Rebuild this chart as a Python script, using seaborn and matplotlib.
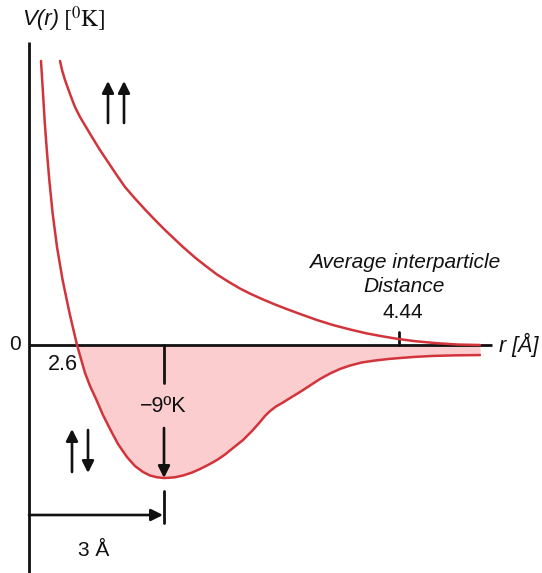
import numpy as np
import pandas as pd
import matplotlib
matplotlib.use("Agg")
import matplotlib.pyplot as plt
import seaborn as sns

# Schematic interatomic potential for a pair of helium atoms.
# Horizontal axis: schematic separation units; vertical axis: V(r) in kelvin.
r_antiparallel = [12, 13.8, 15.8, 17.8, 20.3, 23.6, 28, 33.6, 40.5, 48, 56, 61, 67, 74,
                  81, 89, 98, 106, 114, 121, 128, 135, 145, 154, 163, 171, 179, 188, 196,
                  204, 214, 223, 231, 236, 241, 247, 254, 262, 271, 281, 291, 301, 311,
                  321, 333, 346, 359, 371, 387, 404, 426, 451]
v_antiparallel = [19.22, 17.25, 15.02, 13.19, 11.16, 8.93, 6.63, 4.40, 2.17, 0.0,
                  -1.89, -2.77, -3.65, -4.74, -5.68, -6.70, -7.58, -8.19, -8.59, -8.83,
                  -8.95, -9.00, -8.96, -8.83, -8.63, -8.39, -8.12, -7.78, -7.41, -6.97,
                  -6.43, -5.82, -5.21, -4.80, -4.47, -4.16, -3.89, -3.55, -3.18, -2.74,
                  -2.30, -1.93, -1.62, -1.39, -1.18, -1.05, -0.95, -0.88, -0.80, -0.74,
                  -0.70, -0.68]

r_parallel = [31, 33, 36, 41, 46, 51, 57, 63, 71, 79, 87, 96, 106, 116, 126, 136, 146,
              154, 166, 178, 188, 199, 211, 221, 233, 246, 259, 271, 288, 304, 321, 338,
              354, 369, 386, 408, 429, 451]
v_parallel = [19.22, 18.61, 17.93, 16.98, 16.10, 15.43, 14.75, 14.07, 13.19, 12.38,
              11.57, 10.69, 9.91, 9.17, 8.46, 7.78, 7.14, 6.63, 5.92, 5.28, 4.77, 4.30,
              3.82, 3.48, 3.11, 2.74, 2.40, 2.10, 1.69, 1.35, 1.05, 0.78, 0.58, 0.41,
              0.26, 0.12, 0.03, 0.0]

well_depth = -9          # kelvin, at the minimum
zero_crossing = "2.6"
interparticle = "4.44"
minimum_position = "3 Å"

anti = pd.DataFrame({"r": r_antiparallel, "V": v_antiparallel})
para = pd.DataFrame({"r": r_parallel, "V": v_parallel})

sns.set_theme(style="white")
plt.rcParams["font.family"] = ["Liberation Sans", "DejaVu Sans"]
plt.rcParams["mathtext.fontset"] = "stix"

K = 14.78  # pixels per kelvin of the drawing scale
fig = plt.figure(figsize=(5.42, 5.73), dpi=100)
ax = fig.add_axes([0, 0, 1, 1])


def P(px, py):
    """Convert a drawing position (pixels from top-left) to data coordinates."""
    return (px - 29, (345 - py) / K)


red = "#d1343a"
fill = "#fccdcf"
ink = "#111111"

# shaded well below zero
mask = anti["V"] <= 0
ax.fill_between(anti["r"][mask], anti["V"][mask], 0, color=fill, lw=0, zorder=1)

# axes drawn as plain lines
ax.plot(*zip(P(29, 42), P(29, 573)), color=ink, lw=2.0, zorder=3, solid_capstyle="butt")
ax.plot(*zip(P(29, 345), P(492, 345)), color=ink, lw=2.0, zorder=3, solid_capstyle="butt")

sns.lineplot(data=anti, x="r", y="V", color=red, lw=1.8, ax=ax, zorder=4)
sns.lineplot(data=para, x="r", y="V", color=red, lw=1.8, ax=ax, zorder=4)
ax.set_xlim(-29, 513)
ax.set_ylim(-228 / K, 345 / K)
ax.axis("off")

fs = 15

# axis titles
ax.text(*P(22, 19), "V(r)", style="italic", fontsize=16, ha="left", va="center", color=ink)
ax.text(*P(63, 19), r"$[^{0}\mathrm{K}]$", fontsize=17, ha="left", va="center", color=ink)
ax.text(*P(499, 345), "r [Å]", style="italic", fontsize=15.5, ha="left", va="center", color=ink)

# labels
ax.text(*P(15, 345), "0", fontsize=fs, ha="center", va="center", color=ink)
ax.text(*P(63, 364), zero_crossing, fontsize=15.5, ha="center", va="center", color=ink)
ax.text(*P(163, 407), f"\u2212{abs(well_depth)}ºK", fontsize=15.5, ha="center", va="center", color=ink)
ax.text(*P(94, 551), minimum_position, fontsize=fs, ha="center", va="center", color=ink)
ax.text(*P(403, 313), interparticle, fontsize=fs, ha="center", va="center", color=ink)
ax.text(*P(404, 287), "Distance", style="italic", fontsize=fs, ha="center", va="center", color=ink)
ax.text(*P(405, 262), "Average interparticle", style="italic", fontsize=fs,
        ha="center", va="center", color=ink)

# tick marks
ax.plot(*zip(P(399, 332), P(399, 345)), color=ink, lw=2.0, zorder=3)
ax.plot(*zip(P(164, 491), P(164, 523)), color=ink, lw=2.0, zorder=3)
ax.plot(*zip(P(164, 345), P(164, 383)), color=ink, lw=2.0, zorder=3)


def arrow(start, end):
    ax.annotate("", xy=P(*end), xytext=P(*start),
                arrowprops=dict(arrowstyle="-|>,head_length=0.7,head_width=0.35",
                                mutation_scale=10, color=ink, lw=1.9,
                                shrinkA=0, shrinkB=0),
                zorder=5)


# arrow down to the minimum
arrow((164, 428), (164, 478))
# horizontal distance arrow
arrow((29, 515), (163, 515))
# spin arrows: parallel
arrow((108, 123), (108, 81))
arrow((124, 123), (124, 81))
# spin arrows: antiparallel
arrow((72, 472), (72, 429))
arrow((88, 430), (88, 473))

fig.savefig("out.png", dpi=100)
